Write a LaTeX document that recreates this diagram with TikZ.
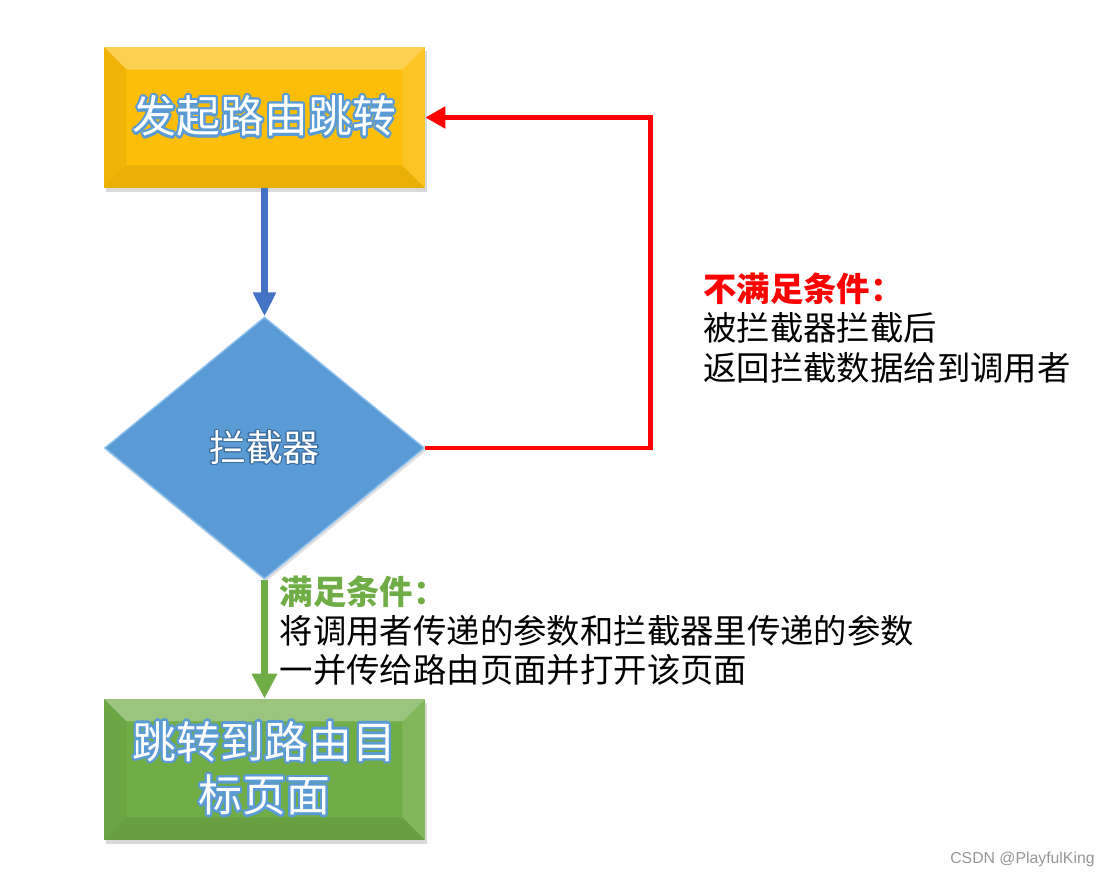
\documentclass[tikz,border=0pt]{standalone}
\usepackage{fontspec}
\setmainfont{Noto Sans CJK SC}
\newfontfamily\markfont{Liberation Sans}
\usepackage[copies]{contour}
\usepackage{tikz}
\usetikzlibrary{arrows.meta,positioning,shapes.geometric,shadows,calc}
\definecolor{BoxGold}{RGB}{252,190,8}
\definecolor{BoxGreen}{RGB}{112,173,71}
\definecolor{DiaBlue}{RGB}{91,155,213}
\definecolor{DiaEdge}{RGB}{140,192,238}
\definecolor{ArrBlue}{RGB}{68,114,196}
\definecolor{GlowBlue}{RGB}{91,155,213}
\definecolor{GlowDark}{RGB}{60,110,160}
\definecolor{TxtGreen}{RGB}{112,173,71}
\definecolor{MarkGray}{RGB}{150,150,150}
\contourlength{1.3pt}
\newcommand{\bigglow}[1]{{\color{white}\contour{GlowBlue}{#1}}}
\newcommand{\softglow}[1]{{\contourlength{0.6pt}\color{white}\contour{GlowDark}{#1}}}

\begin{document}
\begin{tikzpicture}[x=0.02cm,y=-0.02cm,
node distance=2.56cm,
bevelbox/.style={minimum width=6.42cm,minimum height=2.82cm,inner sep=0pt,align=center,
  font=\fontsize{25}{30.5}\selectfont,
  drop shadow={opacity=0.3,shadow xshift=0.04cm,shadow yshift=-0.08cm},
  path picture={
    \path (path picture bounding box.north west) coordinate (p1) (path picture bounding box.north east) coordinate (p2)
          (path picture bounding box.south east) coordinate (p3) (path picture bounding box.south west) coordinate (p4);
    \path ([shift={(.45cm,-.45cm)}]p1) coordinate (q1) ([shift={(-.45cm,-.45cm)}]p2) coordinate (q2)
          ([shift={(-.45cm,.45cm)}]p3) coordinate (q3) ([shift={(.45cm,.45cm)}]p4) coordinate (q4);
    \fill[white,opacity=.3] (p1) -- (p2) -- (q2) -- (q1) -- cycle;
    \fill[white,opacity=.12] (p2) -- (p3) -- (q3) -- (q2) -- cycle;
    \fill[black,opacity=.07] (p3) -- (p4) -- (q4) -- (q3) -- cycle;
    \fill[black,opacity=.05] (p4) -- (p1) -- (q1) -- (q4) -- cycle;
  }},
gate/.style={diamond,fill=DiaBlue,draw=DiaEdge,line width=0.8pt,minimum width=6.4cm,minimum height=5.24cm,inner sep=0pt,
  font=\fontsize{21}{25}\selectfont,
  drop shadow={opacity=0.25,shadow xshift=0.03cm,shadow yshift=-0.06cm}},
note/.style={anchor=west,align=left,inner sep=0pt,font=\fontsize{19}{22.4}\selectfont},
bluearr/.style={-{Triangle[length=0.48cm,width=0.44cm]},line width=4pt,draw=ArrBlue},
greenarr/.style={-{Triangle[length=0.5cm,width=0.48cm]},line width=4pt,draw=BoxGreen},
redarr/.style={-{Triangle[length=0.4cm,width=0.42cm]},line width=2.8pt,draw=red,line join=miter}]
\useasboundingbox (0,0) rectangle (1110,878);
\node[bevelbox,fill=BoxGold] (jump) at (264.5,117.5) {\bigglow{发起路由跳转}};
\node[gate,below=of jump] (guard) {\softglow{拦截器}};
\node[bevelbox,fill=BoxGreen,below=2.38cm of guard] (page) {\bigglow{跳转到路由目}\\\bigglow{标页面}};
\coordinate[right=4.5cm of guard.east] (turn);
\draw[bluearr] (jump) -- (guard);
\draw[greenarr] (guard) -- (page);
\draw[redarr] (guard.east) -- (turn) |- (jump.east);
% labels of the two outcomes
\node[note] (passtxt) at ($(guard.south)!0.5!(page.north)+(0.3cm,0.17cm)$)
  {{\bfseries\color{TxtGreen}满足条件：}\\将调用者传递的参数和拦截器里传递的参数\\一并传给路由页面并打开该页面};
\node[note] (failtxt) at ([shift={(1.06cm,2.4cm)}]turn)
  {{\bfseries\color{red}不满足条件：}\\被拦截器拦截后\\返回拦截数据给到调用者};
\node[anchor=east,inner sep=0pt,font=\markfont\fontsize{9}{11}\selectfont,text=MarkGray] (mark) at (1095,859) {CSDN @PlayfulKing};
\end{tikzpicture}
\end{document}
